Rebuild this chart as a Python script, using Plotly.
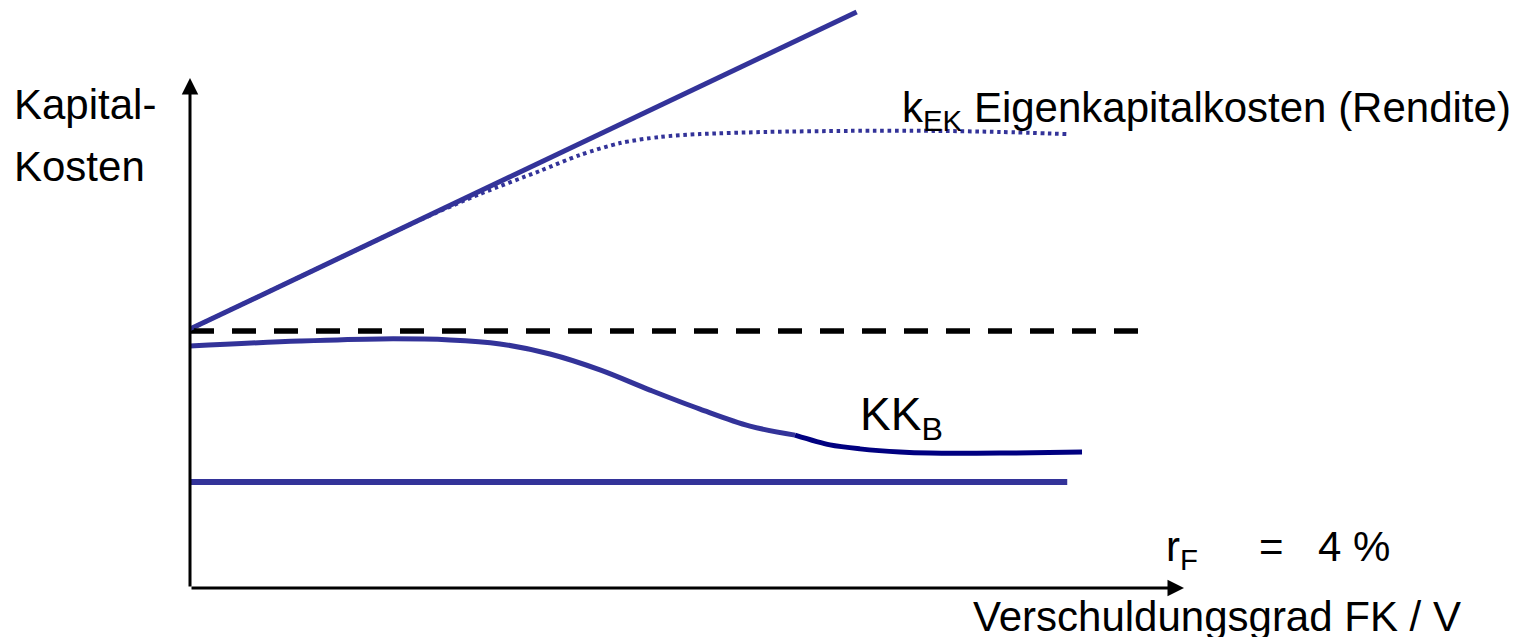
import plotly.graph_objects as go

W, H = 1521, 637

# ---- data (x: Verschuldungsgrad FK/V in %, y: Kapitalkosten in %) ----
x_kek_lin = [0, 66.8]
y_kek_lin = [9.77, 21.74]

x_k0 = [0, 95.0]
y_k0 = [9.70, 9.70]

x_kek = [0, 16.03, 23.05, 29.06, 35.07, 39.08, 43.09, 47.09, 51.10, 57.82, 66.13, 74.45, 81.16, 87.88]
y_kek = [9.77, 12.64, 13.89, 14.87, 15.74, 16.34, 16.79, 17.02, 17.13, 17.21, 17.25, 17.25, 17.21, 17.13]

x_kkb1 = [0, 11.02, 19.04, 26.05, 31.06, 36.07, 41.08, 46.09, 51.10, 56.11, 60.62]
y_kkb1 = [9.13, 9.32, 9.40, 9.36, 9.21, 8.83, 8.23, 7.47, 6.75, 6.11, 5.77]

x_kkb2 = [60.62, 64.13, 67.13, 71.14, 74.15, 81.16, 89.38]
y_kkb2 = [5.77, 5.40, 5.25, 5.13, 5.09, 5.09, 5.13]

x_rf = [0, 87.9]
y_rf = [4.0, 4.0]

r_f_label = "4 %"

# ---- scale (pixel mapping of the axis frame) ----
X0_PX, X_PER = 190, 9.98
Y0_PX, Y_PER = 588, 26.5
x_range = [-X0_PX / X_PER, (W - X0_PX) / X_PER]
y_range = [(Y0_PX - H) / Y_PER, Y0_PX / Y_PER]

BLUE = "#333399"
NAVY = "#000080"
FONT = "Liberation Sans, Arial, sans-serif"

fig = go.Figure()

fig.add_trace(go.Scatter(x=x_kek_lin, y=y_kek_lin, mode="lines",
                         line=dict(color=BLUE, width=5)))
fig.add_trace(go.Scatter(x=x_k0, y=y_k0, mode="lines",
                         line=dict(color="black", width=5.5, dash="24px,18px")))
fig.add_trace(go.Scatter(x=x_kek, y=y_kek, mode="lines",
                         line=dict(color=BLUE, width=4, dash="3.6px,3.7px", shape="spline", smoothing=0.8)))
fig.add_trace(go.Scatter(x=x_kkb1, y=y_kkb1, mode="lines",
                         line=dict(color=BLUE, width=5, shape="spline", smoothing=1.0)))
fig.add_trace(go.Scatter(x=x_kkb2, y=y_kkb2, mode="lines",
                         line=dict(color=NAVY, width=5, shape="spline", smoothing=0.8)))
fig.add_trace(go.Scatter(x=x_rf, y=y_rf, mode="lines",
                         line=dict(color=BLUE, width=6)))


def pp(px, py):
    return px / W, 1 - py / H


annotations = []


def label(text, left, top, size=42):
    x, y = pp(left, top)
    annotations.append(dict(text=text, x=x, y=y, xref="paper", yref="paper",
                            xanchor="left", yanchor="top", showarrow=False,
                            borderpad=0, borderwidth=0,
                            font=dict(family=FONT, size=size, color="black")))


label("Kapital-", 14, 81)
label("Kosten", 14, 143)
label("k<sub>EK</sub> Eigenkapitalkosten (Rendite)", 902, 84)
label("KK<sub>B</sub>", 860, 388, size=46)
label("r<sub>F</sub>", 1166, 523)
label("=", 1259, 523)
label(r_f_label, 1318, 523)
label("Verschuldungsgrad FK / V", 973, 593)

# axes with arrows
y_top = (Y0_PX - 78) / Y_PER
x_right = (1184 - X0_PX) / X_PER
for hx, hy in [(0, y_top), (x_right, 0)]:
    annotations.append(dict(x=hx, y=hy, ax=0, ay=0, xref="x", yref="y",
                            axref="x", ayref="y", text="", showarrow=True,
                            arrowhead=2, arrowwidth=3, arrowsize=1.1,
                            arrowcolor="black", standoff=0, startstandoff=0))

fig.update_layout(
    width=W, height=H,
    margin=dict(l=0, r=0, t=0, b=0),
    paper_bgcolor="white", plot_bgcolor="white",
    showlegend=False,
    xaxis=dict(range=x_range, visible=False, fixedrange=True),
    yaxis=dict(range=y_range, visible=False, fixedrange=True),
    annotations=annotations,
)

fig.write_html("out.html",
               config={"displayModeBar": False},
               post_script="document.body.style.margin='0';document.body.style.overflow='hidden';")
